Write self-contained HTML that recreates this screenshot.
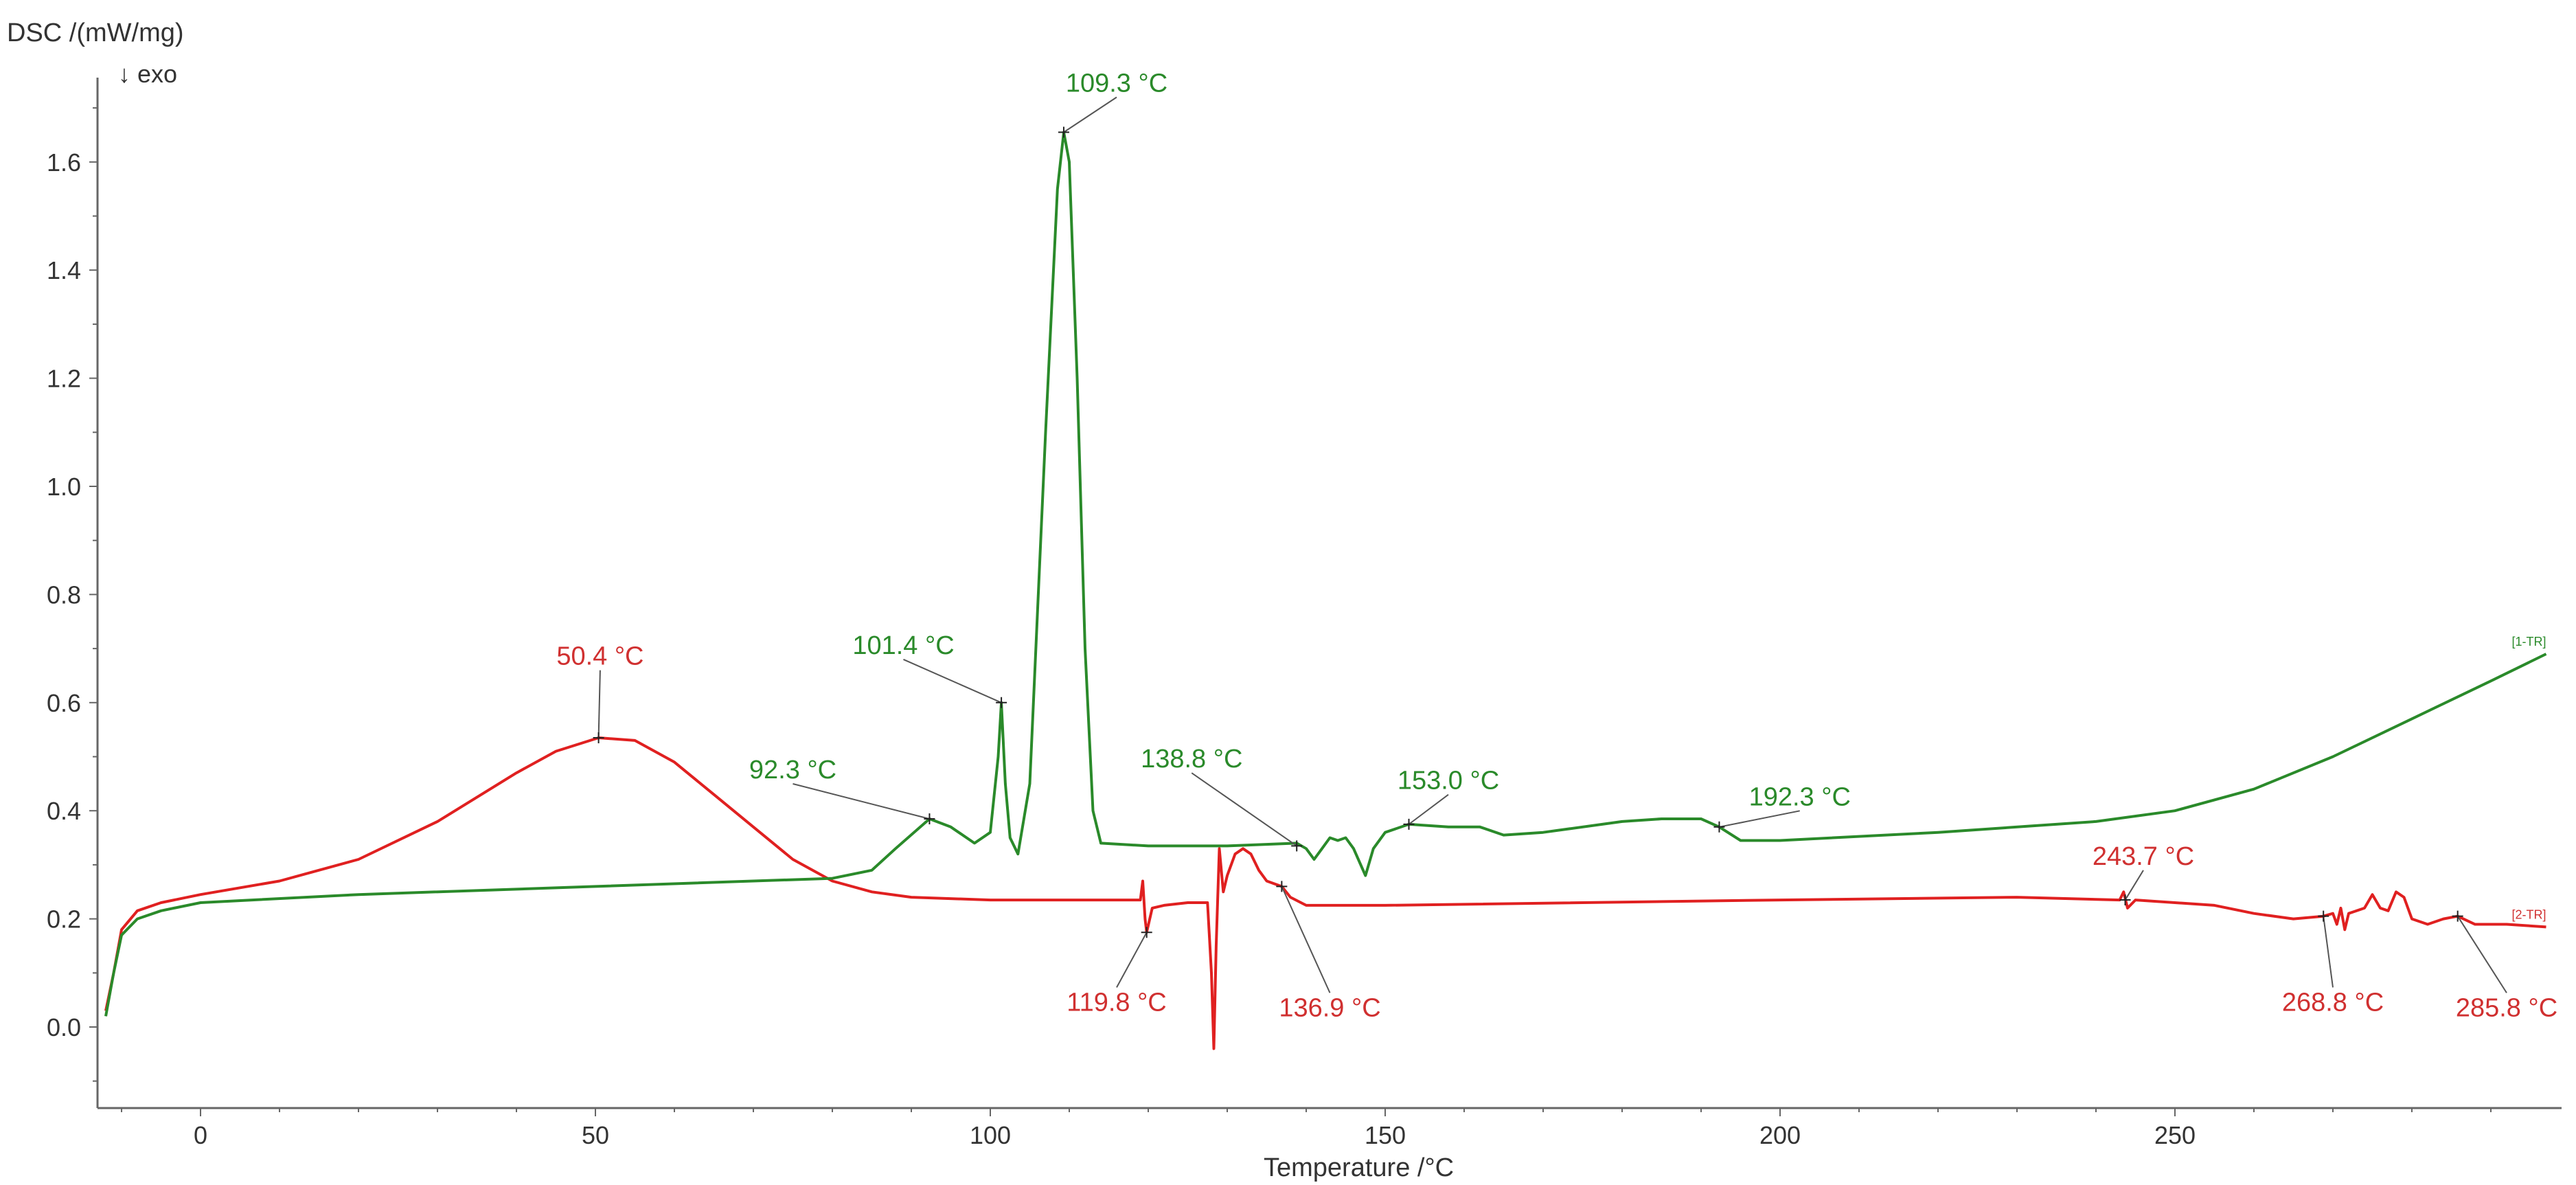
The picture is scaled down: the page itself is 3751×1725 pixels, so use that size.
<!DOCTYPE html>
<html><head><meta charset="utf-8">
<style>
html,body{margin:0;padding:0;background:#fff;}
svg{display:block;font-family:"Liberation Sans",Arial,sans-serif;}
</style></head>
<body>
<svg id="chart" width="3751" height="1725" viewBox="0 0 3751 1725" xmlns="http://www.w3.org/2000/svg">
<text x="10" y="60" font-size="38" fill="#333">DSC /(mW/mg)</text>
<text x="172" y="120" font-size="36" fill="#333">↓ exo</text>
<text x="1840" y="1712" font-size="38" fill="#333">Temperature /°C</text>
</svg>
<script>
const xTicks=[0,50,100,150,200,250];
const yTicks=[0.0,0.2,0.4,0.6,0.8,1.0,1.2,1.4,1.6];
const greenT=[-12,-11,-10,-8,-5,0,20,50,80,85,88,92.3,95,98,100,101,101.4,101.9,102.5,103.5,105,107,108.5,109.3,110,111,112,113,114,120,130,138.8,140,141,142,143,144,145,146,147.5,148.5,150,153,158,162,165,170,180,185,190,192.3,195,200,220,240,250,260,270,280,290,297];
const greenV=[0.02,0.1,0.17,0.2,0.215,0.23,0.245,0.26,0.275,0.29,0.33,0.385,0.37,0.34,0.36,0.5,0.60,0.45,0.35,0.32,0.45,1.1,1.55,1.655,1.6,1.2,0.7,0.4,0.34,0.335,0.335,0.34,0.33,0.31,0.33,0.35,0.345,0.35,0.33,0.28,0.33,0.36,0.375,0.37,0.37,0.355,0.36,0.38,0.385,0.385,0.37,0.345,0.345,0.36,0.38,0.40,0.44,0.50,0.57,0.64,0.69];
const redT=[-12,-11,-10,-8,-5,0,10,20,30,40,45,50.4,55,60,65,70,75,80,85,90,100,119,119.3,119.6,119.8,120.5,122,125,127.5,128,128.3,128.6,129,129.5,130,131,132,133,134,135,136.9,138,140,150,200,230,243,243.5,244,245,255,260,265,268.8,270,270.5,271,271.5,272,274,275,276,277,278,279,280,282,284,285.8,288,292,297];
const redV=[0.03,0.1,0.18,0.215,0.23,0.245,0.27,0.31,0.38,0.47,0.51,0.535,0.53,0.49,0.43,0.37,0.31,0.27,0.25,0.24,0.235,0.235,0.27,0.2,0.175,0.22,0.225,0.23,0.23,0.1,-0.04,0.15,0.33,0.25,0.28,0.32,0.33,0.32,0.29,0.27,0.26,0.24,0.225,0.225,0.235,0.24,0.235,0.25,0.22,0.235,0.225,0.21,0.2,0.205,0.21,0.19,0.22,0.18,0.21,0.22,0.245,0.22,0.215,0.25,0.24,0.2,0.19,0.2,0.205,0.19,0.19,0.185];
const greenLabels=["109.3 °C","101.4 °C","92.3 °C","138.8 °C","153.0 °C","192.3 °C"];
const greenPeakT=[109.3,101.4,92.3,138.8,153.0,192.3];
const greenPeakV=[1.655,0.60,0.385,0.335,0.375,0.37];
const greenLabT=[116,89,75,125.5,158,202.5];
const greenLabV=[1.73,0.69,0.46,0.48,0.44,0.41];
const redLabels=["50.4 °C","119.8 °C","136.9 °C","243.7 °C","268.8 °C","285.8 °C"];
const redPeakT=[50.4,119.8,136.9,243.7,268.8,285.8];
const redPeakV=[0.535,0.175,0.26,0.235,0.205,0.205];
const redLabT=[50.6,116,143,246,270,292];
const redLabV=[0.67,0.03,0.02,0.3,0.03,0.02];

const X=t=>292+11.5*t;
const Y=v=>1495-787*v;
const NS="http://www.w3.org/2000/svg";
const svg=document.getElementById('chart');
function mk(tag,attrs){const e=document.createElementNS(NS,tag);for(const k in attrs)e.setAttribute(k,attrs[k]);svg.appendChild(e);return e;}

let e=mk('line',{x1:142,y1:113,x2:142,y2:1613,stroke:'#666','stroke-width':3});


e=mk('line',{x1:142,y1:1613,x2:3730,y2:1613,stroke:'#666','stroke-width':3});


for(let t=-10;t<=290;t+=10){
  const major=t%50===0;
  e=mk('line',{x1:X(t),y1:1613,x2:X(t),y2:1613+(major?12:6),stroke:'#666','stroke-width':2});
  
  
}
xTicks.forEach(t=>{
  e=mk('text',{x:X(t),y:1665,'font-size':36,fill:'#333','text-anchor':'middle'});
  e.textContent=String(t);
  
  
});
for(let i=-1;i<=17;i++){
  const v=i/10;
  e=mk('line',{x1:142-(i%2===0?12:7),y1:Y(v),x2:142,y2:Y(v),stroke:'#666','stroke-width':2});
  
  
}
yTicks.forEach(v=>{
  e=mk('text',{x:118,y:Y(v)+13,'font-size':36,fill:'#333','text-anchor':'end'});
  e.textContent=v.toFixed(1);
  
  
});
function curve(T,V,color,name){
  const d=T.map((t,i)=>(i?'L':'M')+X(t).toFixed(1)+' '+Y(V[i]).toFixed(1)).join(' ');
  const p=mk('path',{d:d,fill:'none',stroke:color,'stroke-width':4,'stroke-linejoin':'round'});
  
  
}
curve(redT,redV,'#e02020','red-dsc-curve');
curve(greenT,greenV,'#2a8a2a','green-dsc-curve');
function labels(L,PT,PV,LT,LV,color,name){
  L.forEach((s,i)=>{
    const px=X(PT[i]),py=Y(PV[i]),lx=X(LT[i]),ly=Y(LV[i]);
    let l=mk('line',{x1:lx,y1:ly+(LV[i]>PV[i]?8:-34),x2:px,y2:py,stroke:'#555','stroke-width':2});
    
    
    let c=mk('path',{d:`M${px-8} ${py}H${px+8}M${px} ${py-8}V${py+8}`,stroke:'#222','stroke-width':2});
    
    
    let t=mk('text',{x:lx,y:ly,'font-size':38,fill:color,'text-anchor':'middle'});
    t.textContent=s;
    
    
  });
}
labels(greenLabels,greenPeakT,greenPeakV,greenLabT,greenLabV,'#2a8a2a','green-peak');
labels(redLabels,redPeakT,redPeakV,redLabT,redLabV,'#d03030','red-peak');
e=mk('text',{x:X(297),y:Y(0.69)-12,'font-size':18,fill:'#2a8a2a','text-anchor':'end'});
e.textContent='[1-TR]';


e=mk('text',{x:X(297),y:Y(0.185)-12,'font-size':18,fill:'#d03030','text-anchor':'end'});
e.textContent='[2-TR]';


</script>
</body></html>
